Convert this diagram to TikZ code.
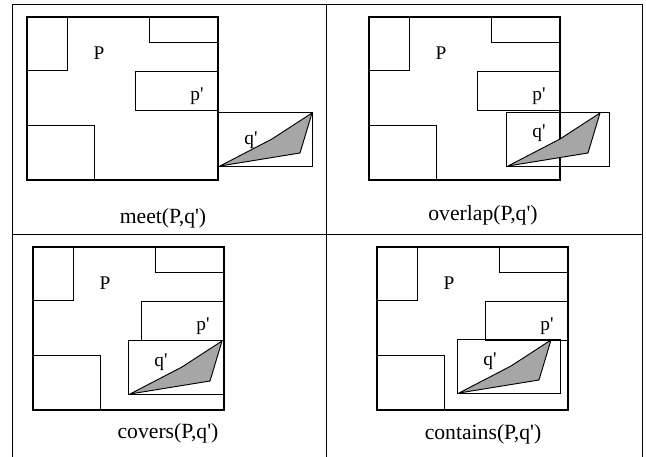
\documentclass[tikz,border=0pt]{standalone}
\usepackage{fontspec}
\setmainfont{Liberation Serif}
\usetikzlibrary{positioning}

\tikzset{
  frame/.style={line width=0.8pt},
  region/.style={line width=2.5pt},
  cell/.style={line width=0.8pt},
  mbr/.style={line width=0.8pt},
  obj/.style={line width=0.8pt, fill=black!35, line join=round},
  lbl/.style={inner sep=0pt, font=\fontsize{16.5}{18}\selectfont},
  caption/.style={inner sep=0pt, font=\fontsize{18.5}{22}\selectfont}
}
\newcommand{\qt}{\textquotesingle}

% region P with its cells, top left corner at the origin
\newcommand{\regionP}[1]{%
  \draw[cell] (0,0) rectangle (40,53);
  \draw[cell] (122,0) rectangle (191,25);
  \draw[cell] (108,54) rectangle (191,93);
  \draw[cell] (0,108) rectangle (67,163);
  \draw[region] (0,0) rectangle (191,163);
  \node[lbl] (#1P) at (72,36) {P};
  \node[lbl] (#1p) at (170,79) {p\qt};
}

% object q' in its box: prefix, corner x, corner y, box width, label y
\newcommand{\objectq}[5]{%
  \begin{scope}[shift={(#2,#3)}]
    \draw[mbr] (0,0) rectangle (#4,54);
    \draw[obj] (2,54) -- (54,27) -- (94,1) -- (82,41) -- cycle;
    \node[lbl] (#1q) at (33,#5) {q\qt};
  \end{scope}
}

\begin{document}
\begin{tikzpicture}[x=0.03cm, y=-0.03cm]
  \useasboundingbox (0,0) rectangle (646,457);

  % table lines
  \draw[frame] (12,457) -- (12,4.5) -- (642,4.5) -- (642,457);
  \draw[frame] (12,234) -- (642,234);
  \draw[frame] (326,4.5) -- (326,457);

  % meet
  \begin{scope}[shift={(27,17)}]
    \regionP{m}
    \objectq{m}{191}{95}{94}{28}
  \end{scope}
  \node[caption] (meet) at (163,218) {meet(P,q\qt)};

  % overlap
  \begin{scope}[shift={(369,17)}]
    \regionP{o}
    \objectq{o}{137}{95}{103}{21}
  \end{scope}
  \node[caption] (overlap) at (483,215) {overlap(P,q\qt)};

  % covers
  \begin{scope}[shift={(33,247)}]
    \regionP{c}
    \objectq{c}{95}{93}{96}{22}
  \end{scope}
  \node[caption] (covers) at (168,433) {covers(P,q\qt)};

  % contains
  \begin{scope}[shift={(377,247)}]
    \regionP{n}
    \objectq{n}{80}{92}{103}{22}
  \end{scope}
  \node[caption] (contains) at (483,434) {contains(P,q\qt)};
\end{tikzpicture}
\end{document}
